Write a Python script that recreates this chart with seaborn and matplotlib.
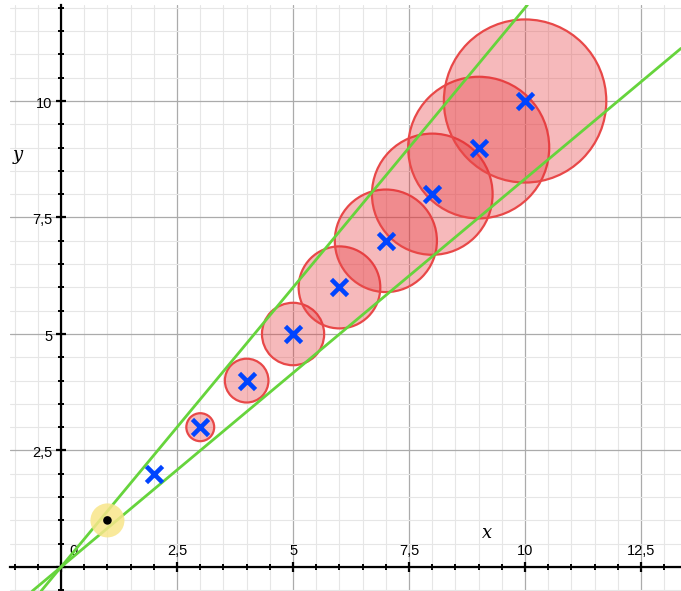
import numpy as np
import pandas as pd
import matplotlib
matplotlib.use("Agg")
import matplotlib.pyplot as plt
from matplotlib.patches import Circle
from matplotlib.ticker import MultipleLocator
import seaborn as sns

# points (n, n)
pt_x = [2, 3, 4, 5, 6, 7, 8, 9, 10]
pt_y = [2, 3, 4, 5, 6, 7, 8, 9, 10]
start_x = [1]
start_y = [1]

# circles around the points
circ_x = [3, 4, 5, 6, 7, 8, 9, 10]
circ_y = [3, 4, 5, 6, 7, 8, 9, 10]
circ_r = [0.3, 0.47, 0.67, 0.88, 1.1, 1.3, 1.52, 1.75]

# lines through the origin
slopes = [1.2, 0.833]

tick_vals = [2.5, 5, 7.5, 10, 12.5]
tick_labels = ["2,5", "5", "7,5", "10", "12,5"]

sns.set_style("white")
plt.rcParams['font.family'] = ['Liberation Sans', 'DejaVu Sans']

fig = plt.figure(figsize=(6.81, 5.91), dpi=100)
ax = fig.add_axes([10 / 681, 0, 671 / 681, 586 / 591])
ax.set_xlim(-1.1, 13.36)
ax.set_ylim(-0.515, 12.06)

# grid
ax.xaxis.set_major_locator(MultipleLocator(2.5))
ax.yaxis.set_major_locator(MultipleLocator(2.5))
ax.xaxis.set_minor_locator(MultipleLocator(0.5))
ax.yaxis.set_minor_locator(MultipleLocator(0.5))
ax.grid(True, which='minor', color='#e6e6e6', lw=0.8, zorder=0)
ax.grid(True, which='major', color='#ababab', lw=0.9, zorder=0)

# axes through origin
for s in ['top', 'right']:
    ax.spines[s].set_visible(False)
ax.spines['left'].set_position(('data', 0))
ax.spines['bottom'].set_position(('data', 0))
for s in ['left', 'bottom']:
    ax.spines[s].set_linewidth(1.6)
    ax.spines[s].set_color('black')
    ax.spines[s].set_zorder(1)
ax.tick_params(which='both', bottom=True, left=True, top=False, right=False,
               labelbottom=False, labelleft=False)
ax.tick_params(which='major', direction='inout', length=7, width=1.6, color='black')
ax.tick_params(which='minor', direction='inout', length=4.5, width=1.4, color='black')

for v, lab in zip(tick_vals, tick_labels):
    ax.annotate(lab, (v, 0), xytext=(0, 6.5), textcoords='offset points',
                ha='center', va='bottom', fontsize=10.5, color='black')
    ax.annotate(lab, (0, v), xytext=(-6, -2), textcoords='offset points',
                ha='right', va='center', fontsize=10.5, color='black')
ax.annotate("0", (0, 0), xytext=(9, 6.5), textcoords='offset points',
            ha='center', va='bottom', fontsize=10.5, color='black')
ax.text(9.17, 0.72, "x", fontsize=13, family='DejaVu Serif', style='italic',
        ha='center', va='center', color='black')
ax.text(-0.93, 8.84, "y", fontsize=13, family='DejaVu Serif', style='italic',
        ha='center', va='center', color='black')

# circles
for cx, cy, r in zip(circ_x, circ_y, circ_r):
    ax.add_patch(Circle((cx, cy), r, facecolor=(0.9, 0.2, 0.22, 0.34),
                        edgecolor='#e84848', lw=1.6, zorder=2))

# green lines
for m in slopes:
    ax.axline((0, 0), slope=m, color='#66d43c', lw=2.0, zorder=3)

# start point with highlight
df0 = pd.DataFrame({'x': start_x, 'y': start_y})
sns.scatterplot(data=df0, x='x', y='y', ax=ax, s=600, color='#f8e68a',
                edgecolor='none', alpha=0.85, zorder=4)
sns.scatterplot(data=df0, x='x', y='y', ax=ax, s=38, color='black',
                edgecolor='none', zorder=5)

# blue crosses
df = pd.DataFrame({'x': pt_x, 'y': pt_y})
sns.scatterplot(data=df, x='x', y='y', ax=ax, marker='x', s=135, color='#0044ff',
                linewidth=3.3, zorder=6)

ax.set_xlabel("")
ax.set_ylabel("")
fig.savefig("out.png", dpi=100)
